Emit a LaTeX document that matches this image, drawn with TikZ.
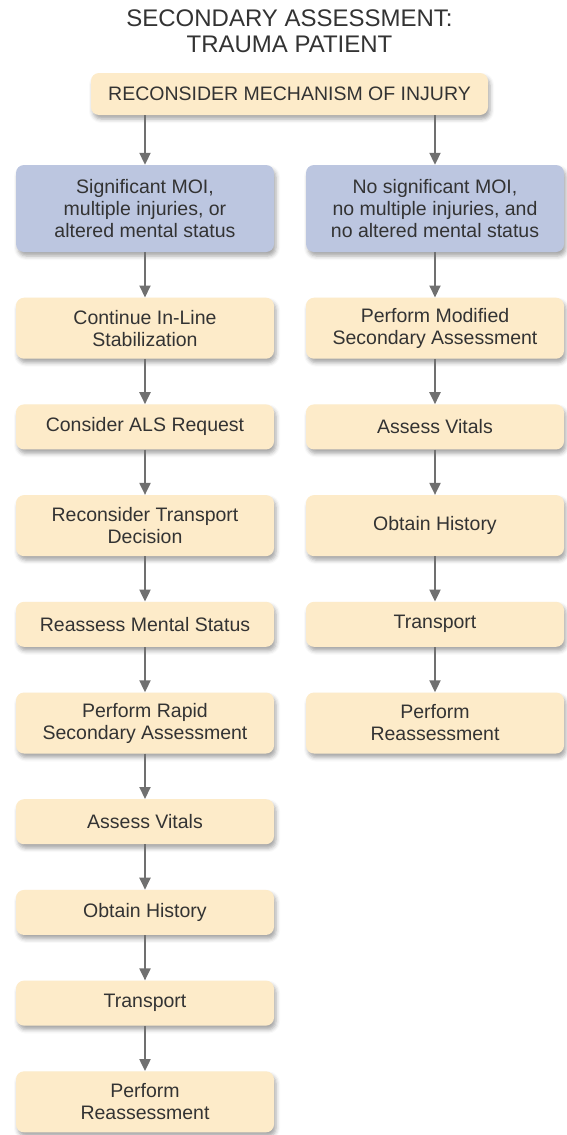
\documentclass[tikz,border=0pt]{standalone}
\usepackage{fontspec}
\setmainfont{Liberation Sans}
\usetikzlibrary{arrows.meta,shadows.blur}
\definecolor{boxfill}{HTML}{FDEBC9}
\definecolor{bluefill}{HTML}{BCC6E0}
\definecolor{arrowgray}{HTML}{707070}
\definecolor{txt}{HTML}{333333}

\begin{document}
\begin{tikzpicture}[x=1pt,y=1pt,
  base/.style={rounded corners=8pt, align=center, inner sep=0pt, text=txt,
    font=\fontsize{19.5}{22}\selectfont,
    blur shadow={shadow xshift=2pt, shadow yshift=-4pt, shadow blur radius=4pt, shadow opacity=35}},
  stepbox/.style={base, fill=boxfill, minimum width=258pt},
  tallbox/.style={stepbox, minimum height=61pt},
  shortbox/.style={stepbox, minimum height=45pt},
  choicebox/.style={base, fill=bluefill, minimum width=258pt, minimum height=87pt},
  flow/.style={draw=arrowgray, line width=2pt, -{Triangle[width=11pt,length=12pt]}}
]
\useasboundingbox (0,0) rectangle (566,-1135);

% heading
\node[anchor=north, align=center, text=txt, inner sep=0pt,
      font=\fontsize{24}{25.5}\selectfont] (title) at (289.5,-10)
  {SECONDARY ASSESSMENT:\\TRAUMA PATIENT};

% first decision
\node[stepbox, minimum width=397pt, minimum height=42pt] (top) at (289.5,-94)
  {RECONSIDER MECHANISM OF INJURY};

\node[choicebox] (sig) at (145,-208.5)
  {Significant MOI,\\multiple injuries, or\\altered mental status};
\node[choicebox] (nosig) at (435,-208.5)
  {No significant MOI,\\no multiple injuries, and\\no altered mental status};

% left branch
\node[tallbox]  (a1) at (145,-328.2)  {Continue In-Line\\Stabilization};
\node[shortbox] (a2) at (145,-426.9)  {Consider ALS Request};
\node[tallbox]  (a3) at (145,-525.6)  {Reconsider Transport\\Decision};
\node[shortbox] (a4) at (145,-624.3)  {Reassess Mental Status};
\node[tallbox]  (a5) at (145,-723)    {Perform Rapid\\Secondary Assessment};
\node[shortbox] (a6) at (145,-821.7)  {Assess Vitals};
\node[shortbox] (a7) at (145,-912.4)  {Obtain History};
\node[shortbox] (a8) at (145,-1003.1) {Transport};
\node[tallbox]  (a9) at (145,-1101.8) {Perform\\Reassessment};

% right branch
\node[tallbox]  (b1) at (435,-328.2) {Perform Modified\\Secondary Assessment};
\node[shortbox] (b2) at (435,-426.9) {Assess Vitals};
\node[tallbox]  (b3) at (435,-525.6) {Obtain History};
\node[shortbox] (b4) at (435,-624.3) {Transport};
\node[tallbox]  (b5) at (435,-723)   {Perform\\Reassessment};

% connectors
\draw[flow] (top.south -| sig.north) -- (sig.north);
\draw[flow] (top.south -| nosig.north) -- (nosig.north);
\draw[flow] (sig.south) -- (a1.north);
\draw[flow] (nosig.south) -- (b1.north);
\foreach \u/\v in {a1/a2,a2/a3,a3/a4,a4/a5,a5/a6,a6/a7,a7/a8,a8/a9,b1/b2,b2/b3,b3/b4,b4/b5}
  \draw[flow] (\u.south) -- (\v.north);
\end{tikzpicture}
\end{document}
